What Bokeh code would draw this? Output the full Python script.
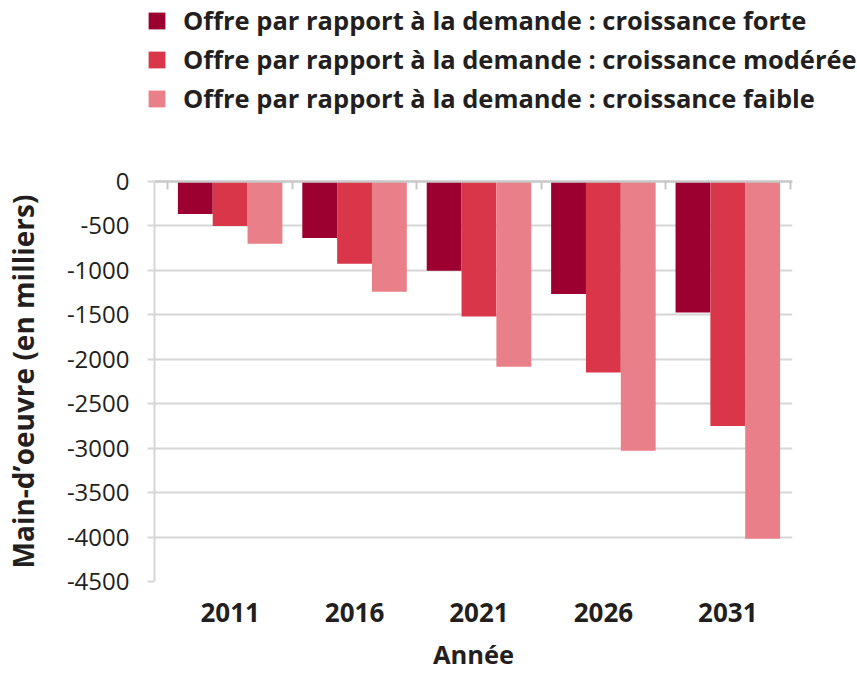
from bokeh.plotting import figure
from bokeh.layouts import column
from bokeh.models import (ColumnDataSource, Range1d, LinearAxis, FixedTicker,
                          Legend, LegendItem)
from bokeh.transform import dodge
from bokeh.embed import file_html
from bokeh.resources import INLINE

years = ["2011", "2016", "2021", "2026", "2031"]
forte = [-365, -635, -1005, -1265, -1475]
moderee = [-500, -925, -1520, -2150, -2750]
faible = [-700, -1240, -2085, -3030, -4020]
series_labels = [
    "Offre par rapport à la demande : croissance forte",
    "Offre par rapport à la demande : croissance modérée",
    "Offre par rapport à la demande : croissance faible",
]
colors = ["#9b0030", "#d9364a", "#e97f88"]
y_ticks = [0, -500, -1000, -1500, -2000, -2500, -3000, -3500, -4000, -4500]
y_tick_labels = ["0", "-500", "-1000", "-1500", "-2000", "-2500", "-3000", "-3500", "-4000", "-4500"]

FONT = "Open Sans"
TXT = "#231f20"
GRID = "#d6d6d6"

# ---------------- main chart ----------------
idx = list(range(len(years)))
src = ColumnDataSource(dict(x=idx, forte=forte, moderee=moderee, faible=faible))

p = figure(width=857, height=543, output_backend="svg", toolbar_location=None,
           x_range=Range1d(-0.608, 4.52), y_range=Range1d(-4500, 0),
           min_border_left=152, min_border_right=65, min_border_top=51,
           min_border_bottom=90, outline_line_color=None)

bw = 0.28
for off, col, c in zip([-bw, 0, bw], ["forte", "moderee", "faible"], colors):
    p.vbar(x=dodge("x", off, range=p.x_range), top=0, bottom=col, width=bw,
           source=src, fill_color=c, line_color=None)

p.xaxis.ticker = FixedTicker(ticks=idx)
p.xaxis.major_label_overrides = {i: y for i, y in zip(idx, years)}
p.xaxis.axis_line_color = None
p.xaxis.major_tick_line_color = None
p.xaxis.minor_tick_line_color = None
p.xaxis.major_label_standoff = 15
p.xaxis.major_label_text_font = FONT
p.xaxis.major_label_text_font_style = "bold"
p.xaxis.major_label_text_font_size = "26px"
p.xaxis.major_label_text_color = TXT
p.xaxis.axis_label = "Année"
p.xaxis.axis_label_text_font = FONT
p.xaxis.axis_label_text_font_style = "bold"
p.xaxis.axis_label_text_font_size = "25.5px"
p.xaxis.axis_label_text_color = TXT
p.xaxis.axis_label_standoff = 12

p.yaxis.ticker = FixedTicker(ticks=y_ticks)
p.yaxis.major_label_overrides = {t: l for t, l in zip(y_ticks, y_tick_labels)}
p.yaxis.axis_line_color = GRID
p.yaxis.axis_line_width = 2
p.yaxis.major_tick_line_color = GRID
p.yaxis.major_tick_line_width = 2
p.yaxis.major_tick_in = 0
p.yaxis.major_tick_out = 7
p.yaxis.minor_tick_line_color = None
p.yaxis.major_label_standoff = 18
p.yaxis.major_label_text_font = FONT
p.yaxis.major_label_text_font_size = "24px"
p.yaxis.major_label_text_color = TXT
p.yaxis.axis_label = "Main-d’oeuvre (en milliers)"
p.yaxis.axis_label_text_font = FONT
p.yaxis.axis_label_text_font_style = "bold"
p.yaxis.axis_label_text_font_size = "28px"
p.yaxis.axis_label_text_color = TXT
p.yaxis.axis_label_standoff = 22

p.xgrid.grid_line_color = None
p.ygrid.ticker = FixedTicker(ticks=y_ticks)
p.ygrid.grid_line_color = GRID
p.ygrid.grid_line_width = 2

# category boundary ticks along the zero line
top_axis = LinearAxis(ticker=FixedTicker(ticks=[i - 0.5 for i in range(len(years) + 1)]),
                      major_label_text_font_size="0px", major_label_text_color=None,
                      axis_line_color="#c8c8c8", axis_line_width=2.5,
                      major_tick_line_color="#c8c8c8", major_tick_line_width=2,
                      major_tick_in=8, major_tick_out=0, minor_tick_line_color=None,
                      major_label_standoff=0)
p.add_layout(top_axis, "above")

# ---------------- legend strip ----------------
lg = figure(width=857, height=130, output_backend="svg", toolbar_location=None,
            x_axis_type=None, y_axis_type=None, x_range=Range1d(0, 1), y_range=Range1d(0, 1),
            min_border=0, outline_line_color=None)
if "frame_align" in lg.properties():
    lg.frame_align = False
    p.frame_align = False
lg.grid.visible = False
items = []
for lab, c in zip(series_labels, colors):
    # zero-height swatch renderer: only its legend glyph is visible
    r = lg.vbar(x=[-1000], top=[0], bottom=[0], width=0.5, fill_color=c, line_color=None)
    items.append(LegendItem(label=lab, renderers=[r]))
legend = Legend(items=items, location=(146, 15), padding=0, margin=0,
                border_line_color=None, background_fill_alpha=0,
                glyph_width=21, glyph_height=21, label_standoff=16, spacing=5,
                label_height=21, label_text_font=FONT, label_text_font_style="bold",
                label_text_font_size="25.5px", label_text_color=TXT)
lg.add_layout(legend, "center")

layout = column(lg, p, spacing=0)
open("out.html", "w").write(file_html(layout, INLINE))
